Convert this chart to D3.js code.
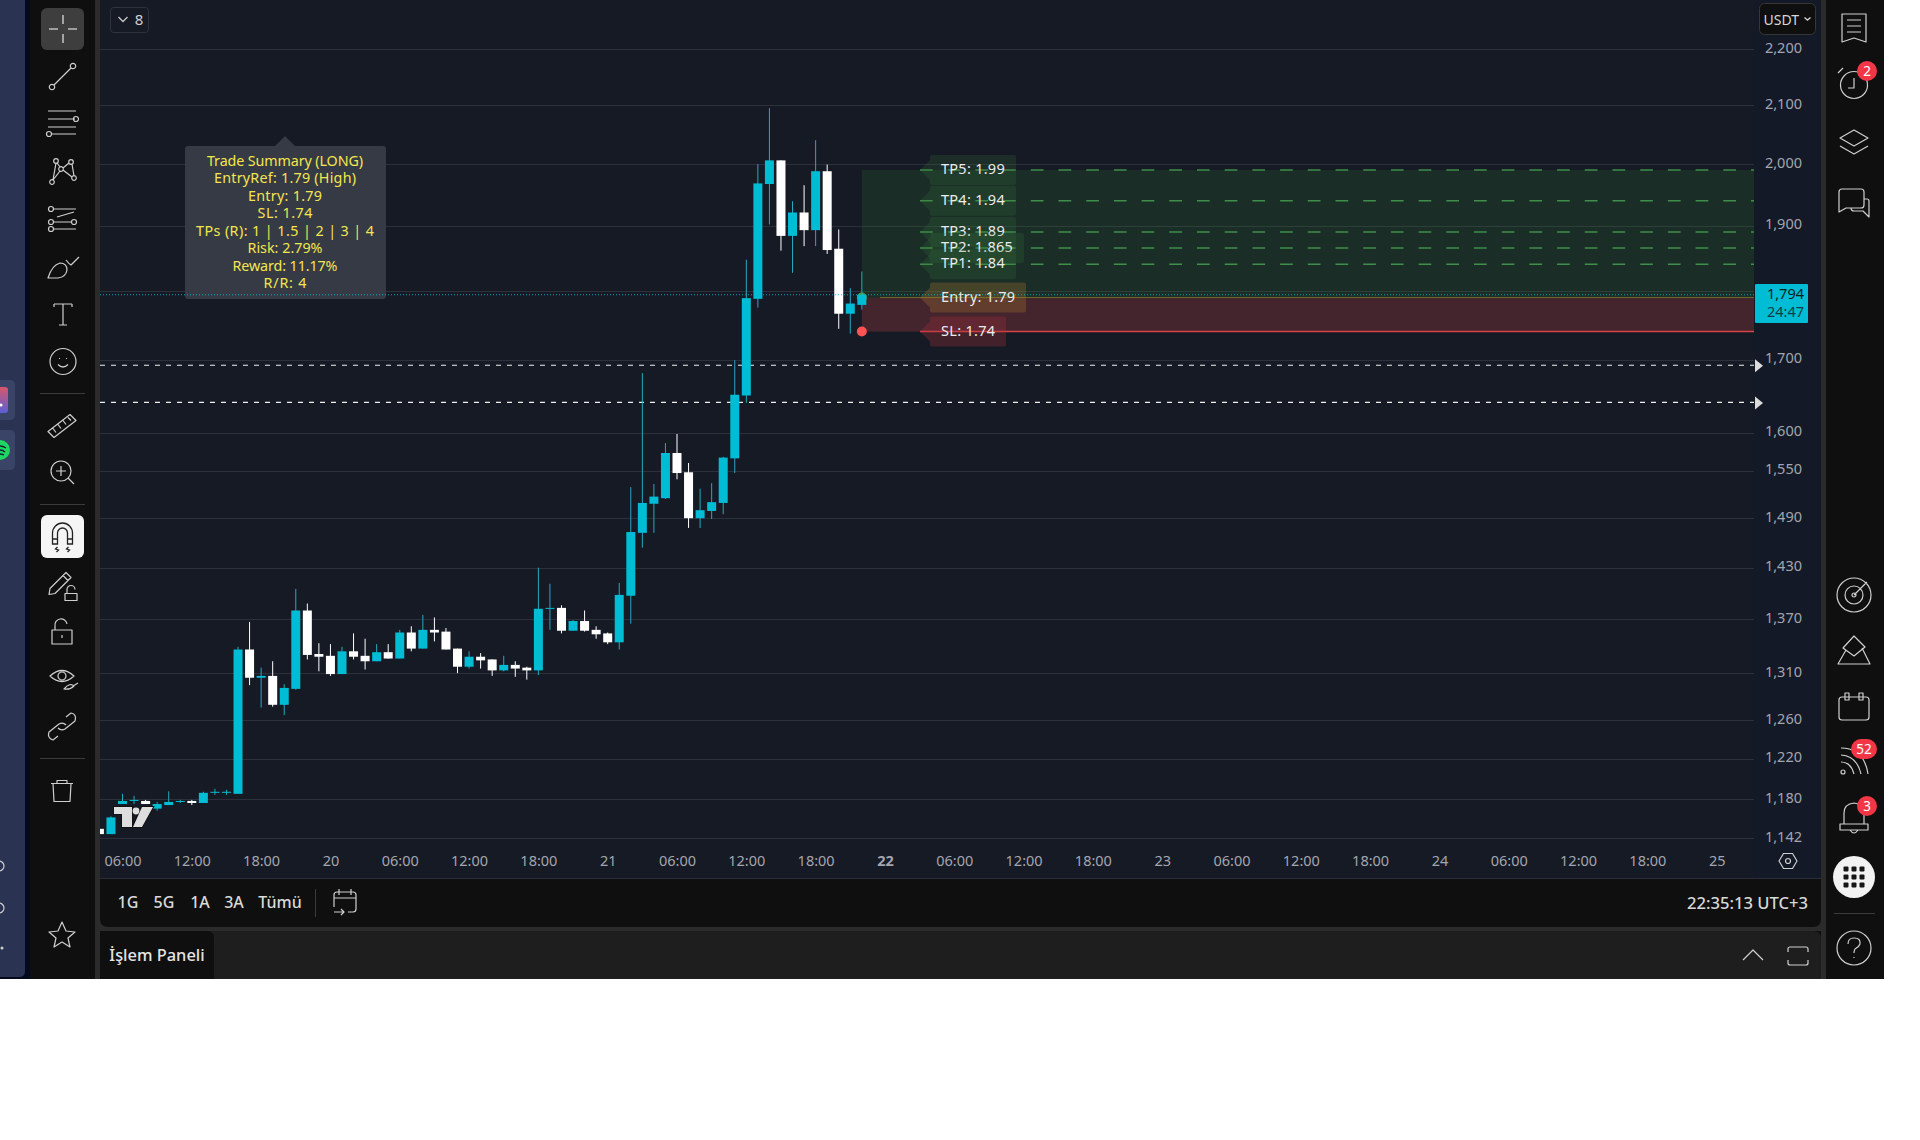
<!DOCTYPE html>
<html>
<head>
<meta charset="utf-8">
<script src="https://cdn.jsdelivr.net/npm/d3@7"></script>
<style>
html, body { margin: 0; padding: 0; background: #fff; }
svg { display: block; }
text { font-family: "Noto Sans", "Open Sans", sans-serif; }
</style>
</head>
<body>
<svg class="main" width="1920" height="1140"></svg>
<script>
// hourly candles, hour 0 = 19th 00:00
var hours = [4,5,6,7,8,9,10,11,12,13,14,15,16,17,18,19,20,21,22,23,24,25,26,27,28,29,30,31,32,33,34,35,36,37,
    38,39,40,41,42,43,44,45,46,47,48,49,50,51,52,53,54,55,56,57,58,59,60,61,62,63,64,65,66,67,68,69,70];
var opens = [1151,1146,1175,1178,1178,1170.5,1174,1177,1178,1176,1186,1186,1185,1336,1305,1307,1276,1293,1380,1331,1329,1309,1334,1329,1323,1333,1326,1355,1337,1358,1356,1337,1317,1328,
    1325,1313,1319,1316,1313,1382,1383,1357,1368,1358,1354,1344,1397,1472,1508,1515,1573,1548,1490,1499,1509,1566,1650,1788,1967,2006,1884,1921,1893,1988,1864,1766,1779];
var highs = [1151,1163,1185,1183,1179,1177,1187.5,1179,1179,1187,1190,1189,1339,1367,1316,1323,1298,1405,1388,1343,1342,1339,1354,1348,1342,1342,1358,1362,1375,1372,1360,1337,1334,1332,
    1325,1329,1323,1317,1430,1411,1386,1369,1380,1362,1355,1412,1529,1681,1533,1586,1598,1560,1527,1534,1568,1699,1847,2000,2095,2006,1939,1965,2040,1999,1894,1804,1829];
var lows = [1146,1146,1175,1175,1175,1168.5,1174,1176,1174,1176,1184,1184,1185,1297,1273,1274,1265,1292,1325,1312,1307,1309,1325,1314,1323,1326,1326,1334,1337,1345,1336,1310,1315,1315,
    1307,1312,1306,1303,1308,1358,1354,1357,1356,1348,1342,1336,1365,1454,1472,1514,1539,1478,1478,1489,1495,1547,1640,1775,1902,1861,1827,1868,1868,1856,1744,1737,1772];
var closes = [1146,1162,1178,1179,1175,1175,1177,1178,1176,1186,1187,1187,1336,1305,1307,1276,1294,1380,1330,1328,1309,1334,1328,1323,1333,1326,1355,1337,1358,1355,1336,1317,1328,1324,
    1313,1319,1315,1313,1382,1383,1357,1368,1357,1353,1344,1398,1473,1509,1517,1573,1547,1490,1500,1510,1567,1651,1789,1968,2006,1884,1921,1893,1988,1862,1766,1781,1794];

var gridPrices = [2200,2100,2000,1900,1800,1700,1600,1550,1490,1430,1370,1310,1260,1220,1180,1142];
var priceTicks = [2200,2100,2000,1900,1700,1600,1550,1490,1430,1370,1310,1260,1220,1180,1142]; // 1,800 sits under the price tag
var timeHours = [6,12,18,24,30,36,42,48,54,60,66,72,78,84,90,96,102,108,114,120,126,132,138,144];
var timeLabels = ["06:00","12:00","18:00","20","06:00","12:00","18:00","21","06:00","12:00","18:00","22","06:00","12:00","18:00","23","06:00","12:00","18:00","24","06:00","12:00","18:00","25"];

var tpNames = ["TP5","TP4","TP3","TP2","TP1"];
var tpLevels = [1990,1940,1890,1865,1840];
var tpTexts = ["1.99","1.94","1.89","1.865","1.84"];
var entryLevel = 1790;
var slLevel = 1740;
var lastPrice = 1794;
var dashedLevels = [1692,1640.5];
var summaryLines = ["Trade Summary (LONG)","EntryRef: 1.79 (High)","Entry: 1.79","SL: 1.74","TPs (R): 1 | 1.5 | 2 | 3 | 4","Risk: 2.79%","Reward: 11.17%","R/R: 4"];
var summaryWidths = [156,142,74,55,178,75,105,43];

var teal = "#00bcd4",
    chrome = "#0f0f0f",
    gutter = "#2b2b2b",
    iconColor = "#cfcfcf",
    chartLeft = 100,
    chartRight = 1754,
    paneRight = 1821,
    paneBottom = 878;

var main = d3.select(".main");

var y = d3.scaleLog().domain([1142, 2200]).range([838.3, 49.3]);
var x = d3.scaleLinear().domain([6, 144]).range([122.5, 1716.7]);

/**
 * Window chrome
 */
main.append("rect").attr("width", 1884).attr("height", 979).attr("fill", chrome);
main.append("rect").attr("width", 30).attr("height", 979).attr("fill", "#030a1e");
main.append("path").attr("d", "M0 0H25V971Q25 977 19 977H0Z").attr("fill", "#2a3352");
main.append("rect").attr("x", 95).attr("width", 5).attr("height", 979).attr("fill", gutter);
main.append("rect").attr("x", paneRight).attr("width", 5).attr("height", 979).attr("fill", gutter);
main.append("rect").attr("x", 100).attr("y", 870).attr("width", paneRight - 100).attr("height", 61).attr("fill", gutter);
main.append("path").attr("d", "M100 0H1821V919Q1821 927 1813 927H108Q100 927 100 919Z").attr("fill", chrome);
main.append("rect").attr("x", 100).attr("width", paneRight - 100).attr("height", paneBottom).attr("fill", "#161a25");
main.append("rect").attr("x", chartRight).attr("width", paneRight - chartRight).attr("height", paneBottom).attr("fill", "#131927");
main.append("rect").attr("x", 100).attr("y", paneBottom).attr("width", paneRight - 100).attr("height", 1).attr("fill", "#2a2e39");
main.append("path").attr("d", "M100 979V939Q100 931 108 931H1813Q1821 931 1821 939V979Z").attr("fill", "#1e1e1e");
main.append("path").attr("d", "M100 979V938Q100 931 107 931H207Q214 931 214 938V979Z").attr("fill", chrome);

// left strip app icons
var defs = main.append("defs");
var appGrad = defs.append("linearGradient").attr("id", "appGrad").attr("x1", 0).attr("y1", 0).attr("x2", 0).attr("y2", 1);
appGrad.append("stop").attr("offset", 0).attr("stop-color", "#d9566a");
appGrad.append("stop").attr("offset", 1).attr("stop-color", "#5b5fd6");
main.append("path").attr("d", "M0 380H10Q15 380 15 385V415Q15 420 10 420H0Z").attr("fill", "#3a4466");
main.append("path").attr("d", "M0 430H10Q15 430 15 435V465Q15 470 10 470H0Z").attr("fill", "#3a4466");
main.append("path").attr("d", "M0 387H5Q8 387 8 390V410Q8 413 5 413H0Z").attr("fill", "url(#appGrad)");
main.append("circle").attr("cx", 1).attr("cy", 405).attr("r", 1.6).attr("fill", "#fff");
main.append("circle").attr("cx", 0).attr("cy", 450).attr("r", 10).attr("fill", "#1ed760");
main.append("path").attr("d", "M0 446Q3 446 6 448M0 450Q3 450 5 452M0 454Q2 454 4 455")
    .attr("fill", "none").attr("stroke", "#123").attr("stroke-width", 1.3);
main.selectAll(".stripdot").data([866, 908]).enter().append("circle")
    .attr("cx", -1).attr("cy", function(d) { return d; }).attr("r", 5)
    .attr("fill", "none").attr("stroke", "#d0d0d0").attr("stroke-width", 1.2);
main.append("circle").attr("cx", 2).attr("cy", 948).attr("r", 1.5).attr("fill", "#d0d0d0");

/**
 * Grid and axes
 */
var plot = main.append("g");
defs.append("clipPath").attr("id", "plotClip").append("rect")
    .attr("x", chartLeft).attr("y", 0).attr("width", chartRight - chartLeft).attr("height", 842);

plot.selectAll(".grid")
    .data(gridPrices)
    .enter()
    .append("line")
    .attr("x1", chartLeft)
    .attr("x2", chartRight)
    .attr("y1", function(d) { return Math.round(y(d)) + 0.5; })
    .attr("y2", function(d) { return Math.round(y(d)) + 0.5; })
    .attr("stroke", "#2c303b");

var priceAxis = d3.axisRight(y).tickValues(priceTicks).tickSize(0).tickPadding(0).tickFormat(d3.format(","));
var priceG = main.append("g").attr("class", "price-axis").attr("transform", "translate(1802,-1.5)").call(priceAxis);
priceG.select(".domain").remove();
priceG.selectAll("text").attr("text-anchor", "end").attr("fill", "#a3a6af").style("font-size", "14.5px").style("font-family", "'Noto Sans'");

var timeAxis = d3.axisBottom(x).tickValues(timeHours).tickSize(0).tickPadding(0)
    .tickFormat(function(d, i) { return timeLabels[i]; });
var timeG = main.append("g").attr("class", "time-axis").attr("transform", "translate(0,855.5)").call(timeAxis);
timeG.select(".domain").remove();
timeG.selectAll("text").attr("fill", "#a3a6af").style("font-size", "14.5px").style("font-family", "'Noto Sans'")
    .style("font-weight", function(d) { return d === 72 ? 700 : 400; });

/**
 * Trade zones
 */
plot.append("rect").attr("x", x(70)).attr("width", chartRight - x(70))
    .attr("y", y(tpLevels[0])).attr("height", y(entryLevel) - y(tpLevels[0]))
    .attr("fill", "#2e7d32").attr("opacity", 0.2);
plot.append("rect").attr("x", x(70)).attr("width", chartRight - x(70))
    .attr("y", y(entryLevel)).attr("height", y(slLevel) - y(entryLevel))
    .attr("fill", "#ff5252").attr("opacity", 0.2);
plot.append("line").attr("x1", 880).attr("x2", chartRight)
    .attr("y1", y(entryLevel)).attr("y2", y(entryLevel))
    .attr("stroke", "#6f6a2e").attr("stroke-width", 1);
plot.append("line").attr("x1", 920).attr("x2", chartRight)
    .attr("y1", y(slLevel)).attr("y2", y(slLevel))
    .attr("stroke", "#d8434a").attr("stroke-width", 1.6);

plot.selectAll(".tpline")
    .data(tpLevels)
    .enter()
    .append("line")
    .attr("x1", 920)
    .attr("x2", chartRight)
    .attr("y1", function(d) { return y(d); })
    .attr("y2", function(d) { return y(d); })
    .attr("stroke", "#3f8f4a")
    .attr("stroke-width", 1.5)
    .attr("stroke-dasharray", "12.7,15");

// dashed alert lines with right handles
dashedLevels.forEach(function(d) {
    plot.append("line").attr("x1", chartLeft).attr("x2", chartRight)
        .attr("y1", y(d)).attr("y2", y(d))
        .attr("stroke", "#f0f0f0").attr("stroke-width", 1.2).attr("stroke-dasharray", "5,6");
    main.append("path")
        .attr("d", "M1755 " + (y(d) - 6) + "L1763 " + (y(d) + 0.5) + "L1755 " + (y(d) + 7) + "Z")
        .attr("fill", "#dcdcdc");
});

/**
 * Candles
 */
var candleData = hours.map(function(h, i) {
    return { h: h, o: opens[i], hi: highs[i], lo: lows[i], c: closes[i] };
});

plot.append("circle").attr("cx", x(70)).attr("cy", y(entryLevel)).attr("r", 5).attr("fill", "#4f9a3f");
plot.append("circle").attr("cx", x(70)).attr("cy", y(slLevel)).attr("r", 5).attr("fill", "#ff5252");

var candles = plot.append("g").attr("clip-path", "url(#plotClip)");

candles.selectAll(".wick")
    .data(candleData)
    .enter()
    .append("line")
    .attr("x1", function(d) { return x(d.h); })
    .attr("x2", function(d) { return x(d.h); })
    .attr("y1", function(d) { return y(d.hi); })
    .attr("y2", function(d) { return y(d.lo); })
    .attr("stroke", function(d) { return d.c >= d.o ? "#26a9c0" : "#fff"; })
    .attr("stroke-width", 1);

candles.selectAll(".body")
    .data(candleData)
    .enter()
    .append("rect")
    .attr("x", function(d) { return x(d.h) - 4.5; })
    .attr("width", 9)
    .attr("y", function(d) { return y(Math.max(d.o, d.c)); })
    .attr("height", function(d) { return Math.max(1, Math.abs(y(d.o) - y(d.c))); })
    .attr("fill", function(d) { return d.c >= d.o ? teal : "#fff"; });

/**
 * Level labels
 */
function levelLabel(level, txt, right, textWidth, fill) {
    var c = y(level);
    plot.append("path")
        .attr("d", "M920 " + c + "L930 " + (c - 10) + "V" + (c - 13) + "Q930 " + (c - 15) + " 932 " + (c - 15) +
            "H" + (right - 2) + "Q" + right + " " + (c - 15) + " " + right + " " + (c - 13) +
            "V" + (c + 13) + "Q" + right + " " + (c + 15) + " " + (right - 2) + " " + (c + 15) +
            "H932Q930 " + (c + 15) + " 930 " + (c + 13) + "V" + (c + 10) + "Z")
        .attr("fill", fill);
    plot.append("text")
        .attr("x", 941).attr("y", c - 1).attr("dy", "0.35em")
        .attr("textLength", textWidth).attr("lengthAdjust", "spacing")
        .attr("fill", "#ececec").style("font-size", "14.5px")
        .text(txt);
}
tpNames.forEach(function(n, i) {
    levelLabel(tpLevels[i], n + ": " + tpTexts[i], n === "TP2" ? 1024 : 1016, n === "TP2" ? 71.7 : 63.7, "rgba(56,120,60,0.22)");
});
levelLabel(entryLevel, "Entry: 1.79", 1026, 74, "rgba(170,120,50,0.3)");
levelLabel(slLevel, "SL: 1.74", 1006, 54, "rgba(170,50,60,0.3)");

/**
 * Trade summary tooltip
 */
plot.append("path")
    .attr("d", "M188 146H275L285 136L295 146H383Q386 146 386 149V296Q386 299 383 299H188Q185 299 185 296V149Q185 146 188 146Z")
    .attr("fill", "#363a45");
plot.selectAll(".summary")
    .data(summaryLines)
    .enter()
    .append("text")
    .attr("x", 285)
    .attr("y", function(d, i) { return 160.7 + i * 17.5; })
    .attr("dy", "0.35em")
    .attr("text-anchor", "middle")
    .attr("textLength", function(d, i) { return summaryWidths[i]; })
    .attr("lengthAdjust", "spacing")
    .attr("fill", "#f4e64e")
    .style("font-size", "14.3px")
    .text(function(d) { return d; });

// last price line and tag
plot.append("line").attr("x1", chartLeft).attr("x2", chartRight)
    .attr("y1", y(lastPrice)).attr("y2", y(lastPrice))
    .attr("stroke", teal).attr("stroke-opacity", 0.85).attr("stroke-dasharray", "1,2");
main.append("rect").attr("x", 1755).attr("y", 284).attr("width", 53).attr("height", 39).attr("rx", 1).attr("fill", teal);
main.append("text").attr("x", 1804).attr("y", 293.7).attr("dy", "0.35em").attr("text-anchor", "end")
    .attr("fill", "#0c1d24").style("font-size", "14.5px").text(d3.format(",")(lastPrice));
main.append("text").attr("x", 1804).attr("y", 311.7).attr("dy", "0.35em").attr("text-anchor", "end")
    .attr("fill", "#0b3f4a").style("font-size", "14.5px").text("24:47");

/**
 * Buttons and bottom bars
 */
main.append("rect").attr("x", 110.5).attr("y", 7.5).attr("width", 38).attr("height", 25).attr("rx", 3)
    .attr("fill", "none").attr("stroke", "#2e323d");
main.append("path").attr("d", "M118.5 17L123 21.5L127.5 17").attr("fill", "none").attr("stroke", "#c8c8c8").attr("stroke-width", 1.3);
main.append("text").attr("x", 139).attr("y", 19.5).attr("dy", "0.35em").attr("text-anchor", "middle")
    .attr("fill", "#d0d0d0").style("font-size", "15px").text("8");

main.append("rect").attr("x", 1759.5).attr("y", 3.5).attr("width", 56).attr("height", 31).attr("rx", 5)
    .attr("fill", chrome).attr("stroke", "#363636");
main.append("text").attr("x", 1763.5).attr("y", 20).attr("dy", "0.35em")
    .attr("fill", "#d6d6d6").style("font-size", "14px").text("USDT");
main.append("path").attr("d", "M1804.5 17.5L1807.5 20L1810.5 17.5").attr("fill", "none").attr("stroke", "#d0d0d0").attr("stroke-width", 1.4);

var rangeLabels = ["1G","5G","1A","3A","Tümü"];
var rangeX = [128,164,200,234,280];
main.selectAll(".range")
    .data(rangeLabels)
    .enter()
    .append("text")
    .attr("x", function(d, i) { return rangeX[i]; })
    .attr("y", 902.5)
    .attr("dy", "0.35em")
    .attr("text-anchor", "middle")
    .attr("fill", "#dadada")
    .style("font-size", "16px")
    .style("font-weight", 500)
    .text(function(d) { return d; });
main.append("line").attr("x1", 315.5).attr("x2", 315.5).attr("y1", 889).attr("y2", 917).attr("stroke", "#3a3a3a");
main.append("text").attr("x", 1808).attr("y", 902.7).attr("dy", "0.35em").attr("text-anchor", "end")
    .attr("fill", "#d8d8d8").style("font-size", "16.6px").style("font-weight", 500).text("22:35:13 UTC+3");
main.append("text").attr("x", 157).attr("y", 955).attr("dy", "0.35em").attr("text-anchor", "middle")
    .attr("fill", "#e4e4e4").style("font-size", "16.4px").style("font-weight", 500).text("İşlem Paneli");

/**
 * Toolbar icons, paths are relative to each icon centre
 */
function icon(cx, cy, d, fill) {
    return main.append("path")
        .attr("transform", "translate(" + cx + "," + cy + ")")
        .attr("d", d)
        .attr("fill", fill || "none")
        .attr("stroke", iconColor)
        .attr("stroke-width", 1.2)
        .attr("stroke-linejoin", "round");
}
function ring(r, cx, cy) {
    cx = cx || 0;
    cy = cy || 0;
    return "M" + (cx - r) + " " + cy + "A" + r + " " + r + " 0 1 1 " + (cx + r) + " " + cy +
        "A" + r + " " + r + " 0 1 1 " + (cx - r) + " " + cy + "Z";
}

// left toolbar
main.append("rect").attr("x", 41).attr("y", 8).attr("width", 43).attr("height", 42).attr("rx", 6).attr("fill", "#3e3e3e");
icon(63, 29, "M0 -14V-5M0 5V14M-14 0H-5M5 0H14").attr("stroke-width", 1.6).attr("stroke", "#bdbdbd");
icon(63, 77, ring(2.7, -11, 10) + ring(2.7, 10, -11) + "M-9 8L8 -9");
icon(63, 122, "M-15 -11H13M-15 -3H12M-15 5H13M-12 12H13" + ring(2.5, 13, -3) + ring(2.5, -14, 12));
icon(63, 171, ring(2.3, -7, -10) + ring(2.3, 8, -9) + ring(2.3, -2, -2) + ring(2.3, -11, 11) + ring(2.3, 11, 7) +
    "M-7 -8L-10 9M-6 -8L-3 -4M6 -8L0 -3M0 -1L9 6M9 -7L11 5M-3 0L-10 9");
icon(63, 220, ring(2.5, -12, -11) + ring(2.5, -12, 2) + ring(2.5, -12, 9) + ring(2.5, 11, 2) +
    "M-9 -11H13M-9 2H9M-9 9H13M-6 -3L11 -8");
icon(63, 267, "M-15 11Q-11 -2 -3 -4Q4 -4 4 3Q3 10 -5 11ZM3 -7Q6 -3 8 -2L16 -10");
icon(63, 313, "M-9 -9H9M0 -9V12M-4 12H4M-9 -9V-6M9 -9V-6");
icon(63, 361.5, ring(13) + "M-5 3Q0 8 5 3M-4 -3H-3M3 -3H4");
main.append("line").attr("x1", 40).attr("x2", 85).attr("y1", 393.5).attr("y2", 393.5).attr("stroke", "#3a3a3a");
icon(62, 425.5, "M-14 6L8 -11L14 -5L-8 12ZM-9 3L-6 7M-4 -1L-1 3M1 -5L4 -1M6 -8L9 -5");
icon(61, 471, ring(10) + "M-5 0H5M0 -5V5M7 7L13 13");
main.append("line").attr("x1", 40).attr("x2", 85).attr("y1", 504.5).attr("y2", 504.5).attr("stroke", "#3a3a3a");
main.append("rect").attr("x", 41).attr("y", 515).attr("width", 43).attr("height", 43).attr("rx", 6).attr("fill", "#f5f5f5");
main.append("path").attr("transform", "translate(62.5,536)")
    .attr("d", "M-10 8V-3A10 10 0 0 1 10 -3V8H5V-3A5 5 0 0 0 -5 -3V8ZM-10 3H-5M5 3H10M-5 11L-7 13L-4 14L-6 16M6 11L4 13L7 14L5 16")
    .attr("fill", "none").attr("stroke", "#222").attr("stroke-width", 1.3);
icon(63, 584.5, "M-13 4L3 -12L8 -7L-8 9L-14 10ZM0 -9L5 -4M4 9V5A4 4 0 0 1 12 5M2 9H14V16H2Z");
icon(62, 632, "M-10 -2H10V12H-10ZM-7 -2V-6A6 6 0 0 1 5 -8M0 3V6");
icon(62, 678, "M-12 -2Q0 -13 12 -2Q0 9 -12 -2Z" + ring(4, 0, -2) + "M2 11Q8 4 12 8Q8 12 2 11ZM11 8L16 5");
icon(62, 726, "M-4 10L-9 14Q-15 12 -13 6L-3 -2Q1 -4 4 -1M4 -9L9 -13Q15 -12 13 -5L3 3Q-1 5 -4 2");
main.append("line").attr("x1", 40).attr("x2", 85).attr("y1", 758.5).attr("y2", 758.5).attr("stroke", "#3a3a3a");
icon(62, 790.5, "M-11 -7H11M-5 -7V-10H5V-7M-9 -7L-8 11H8L9 -7");
icon(62, 935, "M0 -13L4 -4L13 -3L6 3L8 12L0 7L-8 12L-6 3L-13 -3L-4 -4Z");
icon(345, 902, "M-11 5V-7Q-11 -10 -8 -10H8Q11 -10 11 -7V7Q11 10 8 10H3M-11 -4H11M-6 -13V-7M6 -13V-7M-11 10H-1M-4 7L-1 10L-4 13");

// right toolbar
icon(1854, 28, "M-12 -14H12V14L0 10L-12 14ZM-7 -8H7M-7 -2H7M-7 4H7");
icon(1854, 85, ring(13.5) + "M0 -7V3H-6M-16 -12L-11 -17");
icon(1854, 142, "M-14 -4L0 -12L14 -4L0 4ZM-14 4L0 12L14 4");
icon(1854, 202, "M-15 10V-10Q-15 -13 -12 -13H7Q10 -13 10 -10V3Q10 6 7 6H-8ZM10 -3H13Q15 -3 15 -1V15L9 9H0Q-3 9 -3 6");
icon(1854, 595, ring(17) + ring(9) + ring(2) + "M0 0L13 -13");
icon(1854, 650, "M0 -14L-11 -2L0 6L11 -3ZM-8 0L-16 14H16L8 -2");
icon(1854, 706, "M-15 -6Q-15 -9 -12 -9H12Q15 -9 15 -6V11Q15 14 12 14H-12Q-15 14 -15 11ZM-9 -13H-5V-6H-9ZM5 -13H9V-6H5Z");
icon(1854, 760, "M-13 -12Q10 -12 14 14M-13 -5Q3 -4 7 14M-13 2Q-3 2 0 14" + ring(2, -11, 12));
icon(1854, 817, "M-10 7V-4Q-10 -13 0 -14Q10 -13 10 -4V7M-14 7H14V13H-14ZM-4 13Q0 19 4 13");
icon(1854, 948, ring(17) + "M-6 -4Q-6 -10 0 -10Q7 -10 6 -4Q5 -1 1 1Q0 3 0 5M0 9V10");
icon(1788, 861, "M-9 0L-4.5 -7.5H4.5L9 0L4.5 7.5H-4.5Z" + ring(2.5));
icon(1753, 955, "M-10 5L0 -5L10 5");
icon(1798, 956, "M-10 -4V-7Q-10 -9 -8 -9H8Q10 -9 10 -7V-4M-10 4V7Q-10 9 -8 9H8Q10 9 10 7V4");
main.append("line").attr("x1", 1834).attr("x2", 1875).attr("y1", 913.5).attr("y2", 913.5).attr("stroke", "#3a3a3a");

main.append("circle").attr("cx", 1854).attr("cy", 877).attr("r", 21).attr("fill", "#f2f2f2");
main.append("g").attr("transform", "translate(1854,877)")
    .selectAll("rect")
    .data([-8, 0, 8].flatMap(function(a) { return [-8, 0, 8].map(function(b) { return [a, b]; }); }))
    .enter()
    .append("rect")
    .attr("x", function(d) { return d[0] - 2.5; })
    .attr("y", function(d) { return d[1] - 2.5; })
    .attr("width", 5).attr("height", 5).attr("rx", 1).attr("fill", "#151515");

// notification badges
var badgeText = ["2","52","3"];
var badgeX = [1867,1864,1867];
var badgeY = [71,749,806];
main.selectAll(".badge")
    .data(badgeText)
    .enter()
    .append("rect")
    .attr("x", function(d, i) { return badgeX[i] - (d.length > 1 ? 13 : 10); })
    .attr("y", function(d, i) { return badgeY[i] - 10; })
    .attr("width", function(d) { return d.length > 1 ? 26 : 20; })
    .attr("height", 20).attr("rx", 10).attr("fill", "#f23645");
main.selectAll(".badgetext")
    .data(badgeText)
    .enter()
    .append("text")
    .attr("x", function(d, i) { return badgeX[i]; })
    .attr("y", function(d, i) { return badgeY[i]; })
    .attr("dy", "0.35em")
    .attr("text-anchor", "middle")
    .attr("fill", "#fff")
    .style("font-size", "13.5px")
    .text(function(d) { return d; });

// TradingView mark, drawn last over the first candles
main.append("path")
    .attr("d", "M114 807H132V827H122V814H114ZM142 807H153L142 827H133Z")
    .attr("fill", "#dedede").attr("stroke", "#111").attr("stroke-width", 2).attr("paint-order", "stroke");
main.append("circle").attr("cx", 136).attr("cy", 811).attr("r", 3.4).attr("fill", "#dedede");
</script>
</body>
</html>
